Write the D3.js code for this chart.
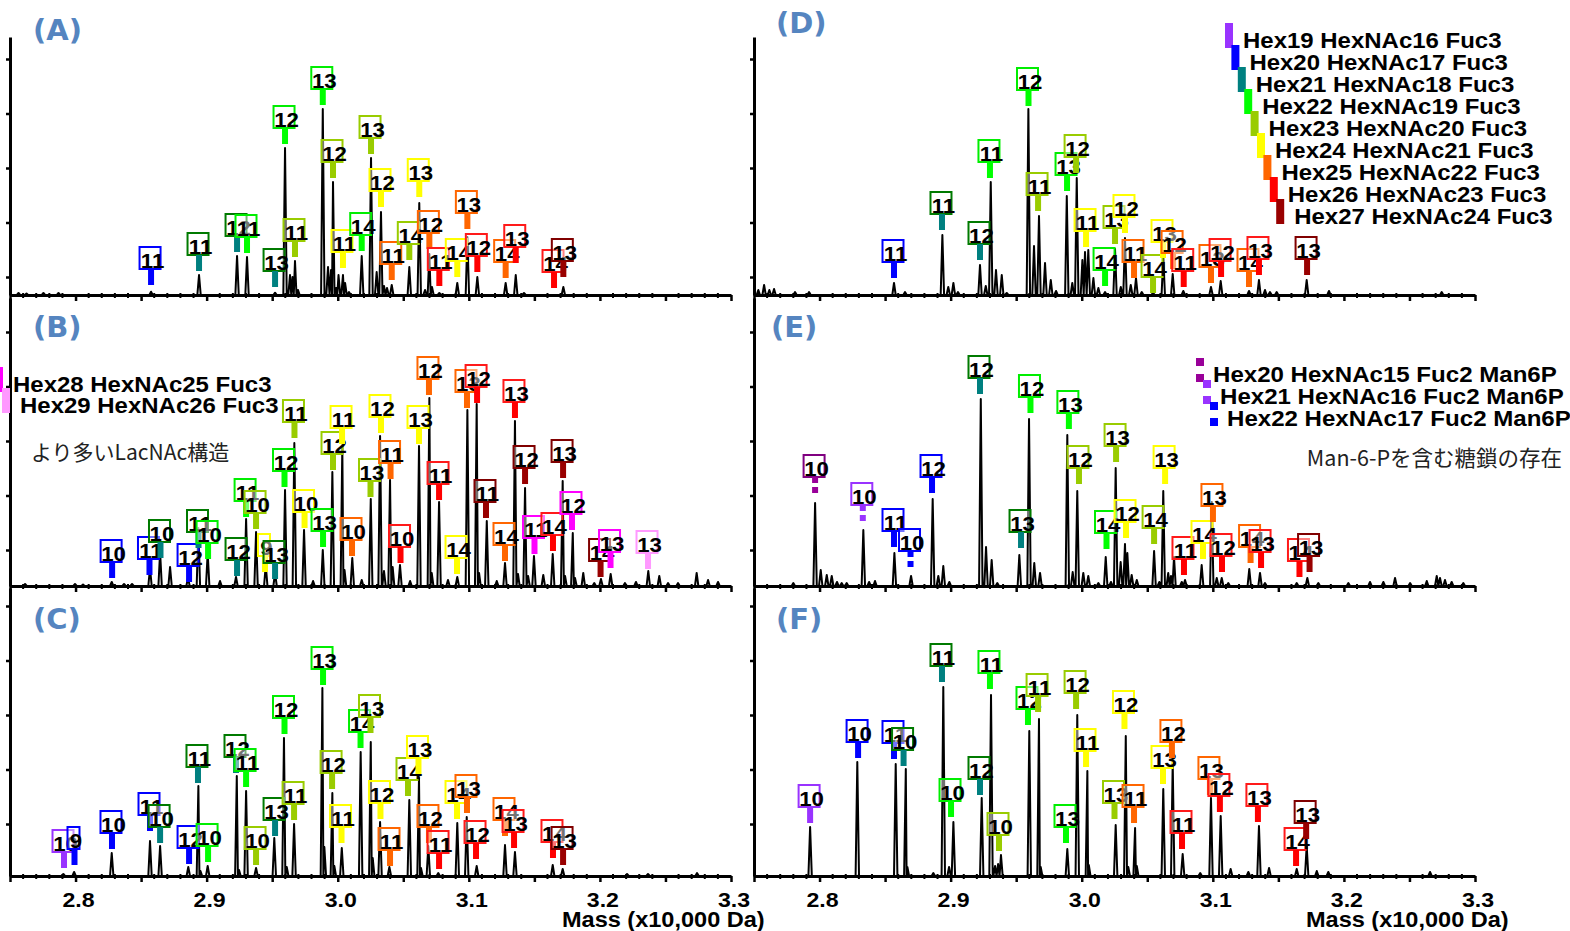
<!DOCTYPE html>
<html>
<head>
<meta charset="utf-8">
<script src="https://cdn.jsdelivr.net/npm/d3@7"></script>
<style>
body { margin: 0; background: #fff; }
svg { display: block; }
</style>
</head>
<body>
<svg id="chart" width="1570" height="931"></svg>
<script>
// series colours: 0 Hex19 ... 8 Hex27, 9 Hex28, 10 Hex29, 11-13 Man6P glycans
var seriesColors = ["#9933ff","#0000ff","#008080","#00ff00","#99cc00","#ffff00","#ff6600","#ff0000","#990000","#ff00ff","#ff99ff","#990099","#9933ff","#0000ff"];
var boxColors    = ["#9933ff","#0000ff","#007a00","#00ee00","#99cc00","#ffff00","#ff6600","#ff1a1a","#800000","#ff00ff","#ff99ff","#800080","#9933ff","#0000ff"];

var legendMain = ["Hex19 HexNAc16 Fuc3","Hex20 HexNAc17 Fuc3","Hex21 HexNAc18 Fuc3","Hex22 HexNAc19 Fuc3","Hex23 HexNAc20 Fuc3","Hex24 HexNAc21 Fuc3","Hex25 HexNAc22 Fuc3","Hex26 HexNAc23 Fuc3","Hex27 HexNAc24 Fuc3"];
var legendLacNAc = ["Hex28 HexNAc25 Fuc3","Hex29 HexNAc26 Fuc3"];
var legendM6P = ["Hex20 HexNAc15 Fuc2 Man6P","Hex21 HexNAc16 Fuc2 Man6P","Hex22 HexNAc17 Fuc2 Man6P"];

var massTicks = [2.8, 2.9, 3.0, 3.1, 3.2, 3.3];
var massTickLabels = ["2.8","2.9","3.0","3.1","3.2","3.3"];
var ticksTop = [1.8, 7.25, 12.7, 18.15, 23.6];
var ticksMid = [3.6, 9.05, 14.5, 19.95, 25.4];
var ticksBot = [5.2, 10.65, 16.1, 21.55, 27.0];

// peaks: [mass (x10,000 Da), intensity (a.u.)]
// labels: [mass, intensity at marker foot, number, series]
var peaksA = [[2.7565,.2],[2.7626,.15],[2.7755,.2],[2.7870,.2],[2.8576,.33],[2.8942,2.0],[2.9232,3.9],[2.9308,3.8],[2.9522,.23],[2.9598,14.7],[2.9636,2.0],[2.9655,1.8],[2.9674,3.4],[2.9697,.5],[2.9886,18.6],[2.9926,2.8],[2.9949,2.5],[2.9964,11.3],[2.9987,.7],[3.0006,2.0],[3.0040,2.0],[3.0056,1.2],[3.0086,.3],[3.0183,3.9],[3.0254,13.7],[3.0297,2.3],[3.0330,8.3],[3.0353,.9],[3.0376,.7],[3.0412,1.0],[3.0546,2.8],[3.0622,9.2],[3.0666,.5],[3.0699,4.1],[3.0719,.8],[3.0775,.2],[3.0912,1.2],[3.0989,5.8],[3.1065,1.8],[3.1281,1.2],[3.1358,2.0],[3.1421,.2],[3.1721,.8]];
var labelsA = [[2.8576,1.0,11,1],[2.8942,2.4,11,2],[2.9232,4.3,12,2],[2.9308,4.2,11,3],[2.9522,.8,13,2],[2.9598,15.1,12,3],[2.9674,3.8,11,4],[2.9886,19.0,13,3],[2.9964,11.7,12,4],[3.0040,2.7,11,5],[3.0183,4.4,14,3],[3.0254,14.1,13,4],[3.0330,8.8,12,5],[3.0412,1.5,11,6],[3.0546,3.5,14,4],[3.0622,9.8,13,5],[3.0699,4.6,12,6],[3.0775,.9,11,7],[3.0912,1.8,14,5],[3.0989,6.6,13,6],[3.1065,2.3,12,7],[3.1281,1.7,14,6],[3.1358,3.2,13,7],[3.1650,.7,14,7],[3.1721,1.8,13,8]];

var peaksB = [[2.7615,.2],[2.7996,.2],[2.8057,.15],[2.8276,.4],[2.8370,.2],[2.8431,.2],[2.8568,1.8],[2.8645,3.4],[2.8721,1.9],[2.8858,.8],[2.8937,5.8],[2.9008,3.3],[2.9102,.5],[2.9224,.9],[2.9301,6.7],[2.9377,5.4],[2.9451,2.1],[2.9522,1.3],[2.9598,9.6],[2.9669,14.3],[2.9743,5.6],[2.9812,.5],[2.9886,3.6],[2.9959,11.4],[3.0035,13.9],[3.0052,1.6],[3.0111,2.8],[3.0183,.6],[3.0252,8.7],[3.0323,15.0],[3.0353,1.5],[3.0399,10.6],[3.0419,1.9],[3.0475,2.1],[3.0552,.5],[3.0620,14.0],[3.0699,18.8],[3.0717,1.3],[3.0773,8.4],[3.0841,.6],[3.0912,.9],[3.0989,17.6],[3.1060,18.2],[3.1078,1.3],[3.1137,6.5],[3.1213,.5],[3.1276,2.3],[3.1352,16.5],[3.1375,1.2],[3.1429,9.8],[3.1452,1.0],[3.1497,3.0],[3.1568,1.1],[3.1640,3.2],[3.1716,10.5],[3.1734,1.0],[3.1793,5.3],[3.1810,.8],[3.1873,1.3],[3.1957,.3],[3.2008,.7],[3.2082,1.2],[3.2191,.3],[3.2275,.4],[3.2369,1.5],[3.2453,1.0],[3.2520,.3],[3.2596,.3],[3.2738,1.3],[3.2825,.6],[3.2901,.4]];
var labelsB = [[2.8279,.8,10,1],[2.8564,1.1,11,1],[2.8648,2.8,10,2],[2.8866,.4,12,1],[2.8938,3.8,11,2],[2.9011,2.7,10,3],[2.9232,1.0,12,2],[2.9301,6.9,11,3],[2.9377,5.7,10,4],[2.9445,1.4,9,5],[2.9522,.7,13,2],[2.9594,9.9,12,3],[2.9670,14.8,11,4],[2.9747,5.8,10,5],[2.9888,3.9,13,3],[2.9964,11.6,12,4],[3.0033,14.2,11,5],[3.0109,3.0,10,6],[3.0250,8.9,13,4],[3.0330,15.3,12,5],[3.0403,10.7,11,6],[3.0479,2.3,10,7],[3.0620,14.2,13,5],[3.0696,19.1,12,6],[3.0773,8.6,11,7],[3.0910,1.2,14,5],[3.0986,17.8,13,6],[3.1063,18.3,12,7],[3.1131,6.8,11,8],[3.1276,2.5,14,6],[3.1352,16.8,13,7],[3.1429,10.2,12,8],[3.1501,3.2,11,9],[3.1642,3.5,14,7],[3.1719,10.8,13,8],[3.1787,5.6,12,9],[3.2005,.9,14,8],[3.2081,1.8,13,9],[3.2367,1.7,13,10]];

var peaksC = [[2.7907,.2],[2.7989,.4],[2.8276,2.3],[2.8568,3.5],[2.8645,3.0],[2.8860,.9],[2.8937,9.0],[2.8953,.5],[2.9008,1.0],[2.9230,10.0],[2.9247,.6],[2.9301,8.5],[2.9377,.8],[2.9516,3.8],[2.9590,13.8],[2.9611,.9],[2.9667,5.2],[2.9883,18.8],[2.9898,2.9],[2.9959,8.3],[2.9974,1.0],[3.0031,2.8],[3.0175,12.4],[3.0252,13.4],[3.0267,1.8],[3.0323,5.4],[3.0394,.9],[3.0546,7.6],[3.0620,9.8],[3.0635,.8],[3.0691,3.0],[3.0767,.3],[3.0912,5.3],[3.0984,5.9],[3.1060,1.0],[3.1276,3.1],[3.1352,2.4],[3.1640,1.1],[3.1716,.7],[3.2207,.2],[3.2367,.2],[3.2741,.3]];
var labelsC = [[2.7912,.8,10,0],[2.7992,1.1,9,1],[2.8278,2.7,10,1],[2.8568,4.5,11,1],[2.8645,3.3,10,2],[2.8866,1.2,12,1],[2.8934,9.3,11,2],[2.9011,1.4,10,3],[2.9224,10.3,12,2],[2.9301,8.9,11,3],[2.9377,1.1,10,4],[2.9522,4.0,13,2],[2.9594,14.2,12,3],[2.9667,5.6,11,4],[2.9888,19.1,13,3],[2.9957,8.7,12,4],[3.0029,3.3,11,5],[3.0174,12.8,14,3],[3.0250,14.3,13,4],[3.0326,5.7,12,5],[3.0399,1.0,11,6],[3.0536,8.0,14,4],[3.0616,10.2,13,5],[3.0696,3.3,12,6],[3.0773,.7,11,7],[3.0910,5.7,14,5],[3.0986,6.3,13,6],[3.1055,1.7,12,7],[3.1276,4.0,14,6],[3.1345,2.8,13,7],[3.1642,1.8,14,7],[3.1719,1.1,13,8]];

var peaksD = [[2.7533,.5],[2.7577,1.0],[2.7617,.5],[2.7653,.6],[2.7813,.3],[2.7920,.3],[2.8568,1.2],[2.8652,.3],[2.8937,6.0],[2.8982,.8],[2.9021,1.2],[2.9056,.3],[2.9224,3.0],[2.9268,.9],[2.9306,11.3],[2.9346,2.5],[2.9390,2.0],[2.9428,.2],[2.9593,18.6],[2.9636,4.9],[2.9674,7.9],[2.9720,3.2],[2.9764,1.5],[2.9804,.4],[2.9886,9.9],[2.9928,1.2],[2.9962,11.7],[3.0005,3.5],[3.0025,4.3],[3.0050,4.5],[3.0089,1.7],[3.0127,.7],[3.0178,.3],[3.0254,4.6],[3.0298,.8],[3.0330,5.7],[3.0374,1.0],[3.0414,1.7],[3.0458,.3],[3.0544,.2],[3.0622,3.8],[3.0694,2.1],[3.0775,.4],[3.0986,.8],[3.1060,1.4],[3.1276,.4],[3.1352,1.5],[3.1398,.5],[3.1436,.3],[3.1487,.3],[3.1716,1.5],[3.1886,.4],[3.2746,.3]];
var labelsD = [[2.8568,1.7,11,1],[2.8934,6.5,11,2],[2.9224,3.5,12,2],[2.9300,11.7,11,3],[2.9594,18.9,12,3],[2.9667,8.4,11,4],[2.9888,10.4,13,3],[2.9957,12.2,12,4],[3.0033,4.8,11,5],[3.0178,.9,14,3],[3.0254,5.1,13,4],[3.0330,6.2,12,5],[3.0399,1.7,11,6],[3.0544,.2,14,4],[3.0620,3.7,13,5],[3.0697,2.6,12,6],[3.0778,.8,11,7],[3.0986,1.2,13,6],[3.1063,1.8,12,7],[3.1276,.8,14,6],[3.1352,2.0,13,7],[3.1719,2.0,13,8]];

var peaksE = [[2.7800,.3],[2.7966,8.3],[2.8009,1.6],[2.8055,1.1],[2.8093,1.0],[2.8133,.4],[2.8169,.3],[2.8207,.3],[2.8334,5.6],[2.8378,.4],[2.8423,.5],[2.8571,3.3],[2.8698,1.0],[2.8863,8.7],[2.8906,1.0],[2.8944,2.0],[2.8990,.4],[2.9230,18.7],[2.9270,3.9],[2.9313,2.6],[2.9356,.3],[2.9524,3.1],[2.9598,16.7],[2.9638,2.3],[2.9682,1.3],[2.9890,15.1],[2.9931,1.4],[2.9966,9.5],[3.0012,1.3],[3.0050,1.0],[3.0127,.3],[3.0183,2.9],[3.0223,.4],[3.0259,11.8],[3.0297,2.4],[3.0330,4.2],[3.0348,3.3],[3.0381,1.1],[3.0420,.6],[3.0552,3.5],[3.0592,.4],[3.0622,9.5],[3.0660,1.3],[3.0681,1.0],[3.0704,2.9],[3.0763,.4],[3.0788,.6],[3.0915,2.1],[3.0992,8.4],[3.1030,.8],[3.1068,.8],[3.1118,.3],[3.1278,1.7],[3.1360,1.3],[3.1398,.3],[3.1640,.3],[3.1721,.8],[3.1805,.3],[3.2034,.3],[3.2199,.4],[3.2301,.4],[3.2390,.8],[3.2505,.3],[3.2632,.5],[3.2708,1.0],[3.2733,.8],[3.2771,.6],[3.2822,.4],[3.2911,.3]];
var labelsE = [[2.7966,9.3,10,11],[2.8330,6.5,10,12],[2.8568,3.9,11,1],[2.8694,1.9,10,13],[2.8858,9.3,12,1],[2.9224,19.2,12,2],[2.9537,3.8,13,2],[2.9609,17.3,12,3],[2.9902,15.7,13,3],[2.9979,10.2,12,4],[3.0189,3.7,14,3],[3.0262,12.4,13,4],[3.0338,4.8,12,5],[3.0552,4.2,14,4],[3.0636,10.2,13,5],[3.0780,1.1,11,7],[3.0925,2.7,14,5],[3.1001,6.4,13,6],[3.1070,1.4,12,7],[3.1288,2.3,14,6],[3.1368,1.8,13,7],[3.1661,.9,14,7],[3.1738,1.4,13,8]];

var peaksF = [[2.7928,4.9],[2.8288,11.4],[2.8581,11.2],[2.8658,10.7],[2.8670,.9],[2.8868,.3],[2.8944,18.9],[2.8988,.9],[2.9021,5.4],[2.9237,7.8],[2.9308,18.1],[2.9339,1.0],[2.9362,1.2],[2.9384,2.1],[2.9600,14.5],[2.9674,15.7],[2.9687,.9],[2.9890,2.7],[2.9966,16.1],[3.0043,10.5],[3.0054,1.1],[3.0259,5.1],[3.0336,14.0],[3.0355,.9],[3.0407,4.8],[3.0420,1.0],[3.0622,8.7],[3.0694,11.3],[3.0770,2.2],[3.0904,.3],[3.0986,7.8],[3.1060,6.0],[3.1136,.7],[3.1271,.4],[3.1352,5.0],[3.1429,.8],[3.1640,.7],[3.1716,3.0],[3.1793,.5],[3.1881,.4],[3.2657,.4]];
var labelsF = [[2.7928,5.3,10,0],[2.8294,11.8,10,1],[2.8568,11.7,11,1],[2.8641,11.0,10,2],[2.8934,19.4,11,2],[2.9003,5.9,10,3],[2.9224,8.1,12,2],[2.9300,18.7,11,3],[2.9369,2.5,10,4],[2.9590,15.1,12,3],[2.9667,16.4,11,4],[2.9880,3.3,13,3],[2.9957,16.7,12,4],[3.0033,10.9,11,5],[3.0250,5.7,13,4],[3.0326,14.7,12,5],[3.0399,5.3,11,6],[3.0620,9.2,13,5],[3.0688,11.8,12,6],[3.0765,2.7,11,7],[3.0978,8.1,13,6],[3.1054,6.4,12,7],[3.1344,5.4,13,7],[3.1635,1.0,14,7],[3.1712,3.7,13,8]];

var svg = d3.select("#chart");
var boldFont = "'Liberation Sans', Arial, sans-serif";

var panels = [
  {name: "(A)", peaks: peaksA, labels: labelsA, left: 10, top: 37, bottom: 295, yTicks: ticksTop, axisLabels: false, lx: 33, ly: 40},
  {name: "(B)", peaks: peaksB, labels: labelsB, left: 10, top: 298, bottom: 586, yTicks: ticksMid, axisLabels: false, lx: 33, ly: 337},
  {name: "(C)", peaks: peaksC, labels: labelsC, left: 10, top: 588, bottom: 876, yTicks: ticksBot, axisLabels: true, lx: 33, ly: 629},
  {name: "(D)", peaks: peaksD, labels: labelsD, left: 754, top: 37, bottom: 295, yTicks: ticksTop, axisLabels: false, lx: 776, ly: 33},
  {name: "(E)", peaks: peaksE, labels: labelsE, left: 754, top: 298, bottom: 586, yTicks: ticksMid, axisLabels: false, lx: 771, ly: 337},
  {name: "(F)", peaks: peaksF, labels: labelsF, left: 754, top: 588, bottom: 876, yTicks: ticksBot, axisLabels: true, lx: 776, ly: 629}
];

var majorTicks = d3.range(275, 331, 5).map(function(v){ return v / 100; });
var minorTicks = d3.range(276, 330).filter(function(v){ return v % 5 !== 0; }).map(function(v){ return v / 100; });
var halfWidth = 0.0013;

function boldText(g, x, y, str, size, sx) {
  return g.append("text")
    .attr("transform", "translate(" + x + "," + y + ") scale(" + sx + ",1)")
    .attr("font-family", boldFont).attr("font-weight", "bold")
    .attr("font-size", size).attr("fill", "#000")
    .text(str);
}

// turn peak list into a stick-like spectrum trace
function tracePoints(peaks) {
  var p = peaks.slice().sort(function(a, b){ return a[0] - b[0]; });
  var pts = [[2.75, 0]];
  p.forEach(function(d, i) {
    var prev = p[i - 1], next = p[i + 1];
    var l = prev ? Math.max(d[0] - halfWidth, (prev[0] + d[0]) / 2) : d[0] - halfWidth;
    var r = next ? Math.min(d[0] + halfWidth, (d[0] + next[0]) / 2) : d[0] + halfWidth;
    pts.push([l, 0], [d[0], d[1]], [r, 0]);
  });
  pts.push([3.3, 0]);
  return pts;
}

panels.forEach(function(p) {
  var x = d3.scaleLinear().domain([2.75, 3.3]).range([p.left, p.left + 721]);
  var y = d3.scaleLinear().domain([0, (p.bottom - p.top) / 10]).range([p.bottom, p.top]);
  var g = svg.append("g");

  var line = d3.line().x(function(d){ return x(d[0]); }).y(function(d){ return y(d[1]); });
  g.append("path")
    .datum(tracePoints(p.peaks))
    .attr("d", line)
    .attr("fill", "none").attr("stroke", "#000")
    .attr("stroke-width", 2).attr("stroke-linejoin", "round");

  // y axis
  var ya = g.append("g").attr("transform", "translate(" + p.left + ",0)")
    .call(d3.axisLeft(y).tickValues(p.yTicks).tickSize(4).tickSizeOuter(0).tickFormat(""));
  ya.select(".domain").attr("stroke", "#000").attr("stroke-width", 3);
  ya.selectAll(".tick line").attr("stroke", "#000").attr("stroke-width", 2.5);

  // x axis
  var xa = g.append("g").attr("transform", "translate(0," + p.bottom + ")")
    .call(d3.axisBottom(x).tickValues(majorTicks).tickSize(6).tickSizeOuter(0).tickFormat(""));
  xa.select(".domain").attr("stroke", "#000").attr("stroke-width", 3);
  xa.selectAll(".tick line").attr("stroke", "#000").attr("stroke-width", 2.5);
  xa.selectAll(".minor").data(minorTicks).enter().append("line")
    .attr("x1", function(d){ return x(d); }).attr("x2", function(d){ return x(d); })
    .attr("y1", -2).attr("y2", 3).attr("stroke", "#000").attr("stroke-width", 2);

  if (p.axisLabels) {
    massTicks.forEach(function(v, i) {
      var t = boldText(g, x(v) + 3, p.bottom + 31, massTickLabels[i], 21, 1.1);
      t.attr("text-anchor", "middle");
    });
    boldText(g, p.left + 552, 927, "Mass (x10,000 Da)", 22, 1.07);
  }

  // peak markers
  p.labels.forEach(function(d) {
    var cx = x(d[0]), yb = y(d[1]), s = d[3];
    var w = d[2] >= 10 ? 21 : 12;
    var lg = g.append("g");
    lg.append("rect")
      .attr("x", cx - w / 2 - 1).attr("y", yb - 38)
      .attr("width", w).attr("height", 22)
      .attr("fill", "#fff").attr("fill-opacity", 0.45)
      .attr("stroke", boxColors[s]).attr("stroke-width", 2);
    if (s >= 11) {
      lg.append("rect").attr("x", cx - 3).attr("y", yb - 16).attr("width", 6).attr("height", 6).attr("fill", seriesColors[s]);
      lg.append("rect").attr("x", cx - 3).attr("y", yb - 6).attr("width", 6).attr("height", 6).attr("fill", seriesColors[s]);
    } else {
      lg.append("rect").attr("x", cx - 3).attr("y", yb - 16).attr("width", 6).attr("height", 16).attr("fill", seriesColors[s]);
    }
    lg.append("text")
      .attr("transform", "translate(" + (cx + 1.5) + "," + (yb - 17) + ") scale(1.06,1)")
      .attr("text-anchor", "middle")
      .attr("font-family", boldFont).attr("font-weight", "bold")
      .attr("font-size", 21).attr("fill", "#000")
      .text(d[2]);
  });

  svg.append("text")
    .attr("x", p.lx).attr("y", p.ly)
    .attr("font-family", "'DejaVu Sans', Verdana, sans-serif").attr("font-weight", "bold")
    .attr("font-size", 29).attr("fill", "#5585c0")
    .text(p.name);
});

// legend (D)
legendMain.forEach(function(name, i) {
  var tx = 1243 + 6.4 * i, by = 48 + 22 * i;
  svg.append("rect").attr("x", tx - 18).attr("y", by - 25).attr("width", 8).attr("height", 25).attr("fill", seriesColors[i]);
  boldText(svg, tx, by, name, 22, 1.09);
});

// legend (B)
legendLacNAc.forEach(function(name, i) {
  var tx = 13 + 7 * i, by = 392 + 21 * i;
  svg.append("rect").attr("x", tx - 18).attr("y", by - 25).attr("width", 8).attr("height", 25).attr("fill", seriesColors[9 + i]);
  boldText(svg, tx, by, name, 22, 1.09);
});
svg.append("text").attr("x", 31).attr("y", 460)
  .attr("font-family", "'Noto Sans CJK JP', sans-serif").attr("font-size", 21).attr("fill", "#222")
  .text("より多いLacNAc構造");

// legend (E)
legendM6P.forEach(function(name, i) {
  var tx = 1213 + 7 * i, by = 382 + 22 * i;
  svg.append("rect").attr("x", tx - 17).attr("y", by - 24).attr("width", 8).attr("height", 8).attr("fill", seriesColors[11 + i]);
  svg.append("rect").attr("x", tx - 17).attr("y", by - 8).attr("width", 8).attr("height", 8).attr("fill", seriesColors[11 + i]);
  boldText(svg, tx, by, name, 22, 1.095);
});
svg.append("text").attr("x", 1562).attr("y", 466).attr("text-anchor", "end")
  .attr("font-family", "'Noto Sans CJK JP', sans-serif").attr("font-size", 21.5).attr("fill", "#222")
  .text("Man-6-Pを含む糖鎖の存在");
</script>
</body>
</html>
